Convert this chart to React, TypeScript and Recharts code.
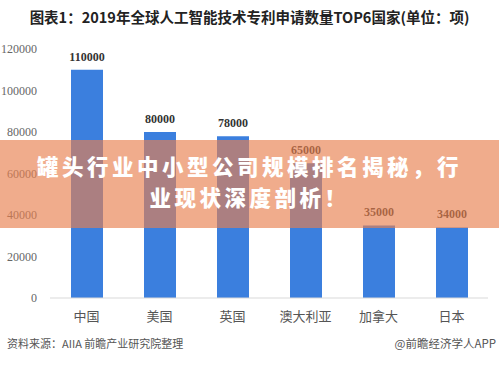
import React from 'react';
import { BarChart, Bar, XAxis, YAxis, LabelList } from 'recharts';

const categories = ['中国', '美国', '英国', '澳大利亚', '加拿大', '日本'];
const patents = [110000, 80000, 78000, 65000, 35000, 34000];
const yTicks = [0, 20000, 40000, 60000, 80000, 100000, 120000];

const titleText = '图表1：2019年全球人工智能技术专利申请数量TOP6国家(单位：项)';
const bannerLine1 = '罐头行业中小型公司规模排名揭秘，行';
const bannerLine2 = '业现状深度剖析！';
const sourceText = '资料来源：AIIA 前瞻产业研究院整理';
const brandText = '@前瞻经济学人APP';

const data = categories.map((name, i) => ({ name, value: patents[i] }));

export default function App() {
  return (
    <div style={{ position: 'absolute', left: 0, top: 0, width: 499, height: 370, background: '#fff', overflow: 'hidden' }}>
      <div
        style={{
          position: 'absolute', left: 0, top: 7, width: 499, textAlign: 'center',
          fontFamily: '"Noto Sans CJK SC", "Noto Sans", sans-serif', fontWeight: 700,
          fontSize: 14.5, color: '#222', lineHeight: '20px',
        }}
      >
        {titleText}
      </div>
      <div style={{ position: 'absolute', left: 0, top: 0 }}>
        <BarChart width={499} height={370} data={data} margin={{ top: 49, right: 11, bottom: 0, left: 0 }}>
          <YAxis
            width={50}
            domain={[0, 120000]}
            ticks={yTicks}
            axisLine={false}
            tickLine={false}
            tickSize={0}
            tickMargin={13}
            tick={{ fill: '#666', fontSize: 12, fontFamily: '"Liberation Serif", serif' }}
          />
          <XAxis
            dataKey="name"
            height={72}
            axisLine={{ stroke: '#d9d9d9' }}
            tickLine={false}
            tickSize={0}
            tickMargin={14}
            tick={{ fill: '#555', fontSize: 13, fontFamily: '"Noto Sans CJK SC", sans-serif' }}
          />
          <Bar dataKey="value" fill="#3b7fde" barSize={32} isAnimationActive={false}>
            <LabelList
              dataKey="value"
              position="top"
              offset={9}
              style={{ fill: '#333', fontSize: 12, fontWeight: 700, fontFamily: '"Liberation Serif", serif' }}
            />
          </Bar>
        </BarChart>
      </div>
      <div
        style={{
          position: 'absolute', left: 0, top: 140, width: 499, height: 88,
          background: 'rgba(232,128,78,0.65)',
        }}
      />
      <div
        style={{
          position: 'absolute', left: 0, top: 150, width: 499, textAlign: 'center',
          fontFamily: '"Noto Sans CJK SC", sans-serif', fontWeight: 900, fontSize: 21.5,
          letterSpacing: 3.5, color: '#fff', lineHeight: '31px',
        }}
      >
        <div>{bannerLine1}</div>
        <div>{bannerLine2}</div>
      </div>
      <div
        style={{
          position: 'absolute', left: 7, top: 336, fontFamily: '"Noto Sans CJK SC", sans-serif',
          fontSize: 11, color: '#555', lineHeight: '15px', whiteSpace: 'nowrap',
        }}
      >
        {sourceText}
      </div>
      <div
        style={{
          position: 'absolute', right: 3, top: 336, fontFamily: '"Noto Sans CJK SC", sans-serif',
          fontSize: 11.5, color: '#555', lineHeight: '15px', whiteSpace: 'nowrap',
        }}
      >
        {brandText}
      </div>
    </div>
  );
}
